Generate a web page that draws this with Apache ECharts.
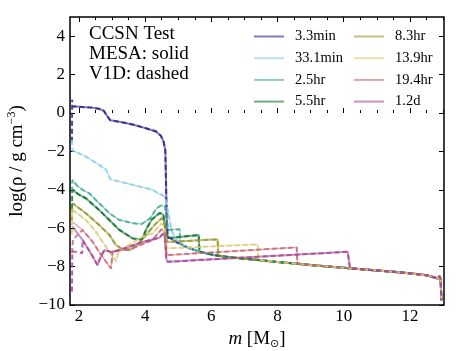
<!DOCTYPE html>
<html lang="en">
<head>
<meta charset="UTF-8">
<title>CCSN Test</title>
<script src="https://cdn.jsdelivr.net/npm/echarts@6/dist/echarts.min.js"></script>
<style>
  html, body { margin: 0; padding: 0; background: #fff; }
  #chart { width: 468px; height: 351px; }
</style>
</head>
<body>
<div id="chart"></div>
<script>
// labels of the eight snapshots (legend)
var times = ['3.3min', '33.1min', '2.5hr', '5.5hr', '8.3hr', '13.9hr', '19.4hr', '1.2d'];
var colors = ['#332288', '#88CCEE', '#44AA99', '#117733', '#999933', '#DDCC77', '#CC6677', '#AA4499'];

// inner part of each profile [m, log rho]
var prof33min = [[1.8,0.35],[2.0,0.33],[2.2,0.3],[2.4,0.28],[2.6,0.22],[2.75,0.12],[2.85,-0.15],[2.95,-0.38],[3.3,-0.48],[3.62,-0.6],[4.0,-0.78],[4.33,-0.96],[4.48,-1.2],[4.56,-1.5],[4.61,-1.95],[4.63,-3.5],[4.65,-5.5],[4.68,-6.45]];
var prof331min = [[1.8,-1.95],[2.0,-2.1],[2.21,-2.27],[2.42,-2.5],[2.61,-2.7],[2.82,-2.96],[2.95,-3.45],[3.3,-3.6],[3.62,-3.74],[4.0,-3.9],[4.23,-4.0],[4.4,-4.2],[4.55,-4.3],[4.62,-4.5],[4.7,-5.2],[4.8,-6.1],[4.9,-6.5],[5.05,-6.8],[5.3,-7.02]];
var prof25hr = [[1.8,-3.48],[1.95,-3.8],[2.11,-4.0],[2.31,-4.18],[2.61,-4.7],[2.92,-5.22],[3.22,-5.57],[3.62,-5.74],[3.9,-5.78],[4.15,-5.48],[4.35,-4.96],[4.5,-4.79],[4.6,-4.88],[4.66,-5.6],[4.7,-6.09],[5.04,-6.05],[5.06,-6.78]];
var prof55hr = [[1.8,-4.0],[2.0,-4.25],[2.21,-4.44],[2.61,-5.05],[2.92,-5.57],[3.22,-6.09],[3.62,-6.53],[3.9,-6.6],[4.05,-6.0],[4.2,-5.55],[4.45,-5.2],[4.55,-5.3],[4.63,-6.3],[4.68,-6.52],[5.62,-6.36],[5.64,-7.22]];
var prof83hr = [[1.8,-4.7],[2.0,-4.95],[2.21,-5.22],[2.61,-5.83],[2.92,-6.35],[3.12,-6.88],[3.32,-7.1],[3.55,-7.15],[3.8,-6.8],[4.1,-6.2],[4.3,-5.8],[4.5,-5.48],[4.58,-5.6],[4.64,-6.55],[4.68,-6.72],[6.19,-6.58],[6.21,-7.42]];
var prof139hr = [[1.8,-5.05],[2.0,-5.3],[2.21,-5.57],[2.51,-6.18],[2.71,-6.7],[2.95,-7.3],[3.12,-7.72],[3.2,-7.2],[3.62,-6.75],[3.92,-6.45],[4.22,-6.27],[4.5,-5.75],[4.58,-5.9],[4.64,-6.9],[4.68,-7.05],[7.4,-6.84],[7.42,-7.66]];
var prof194hr = [[1.8,-5.66],[2.11,-6.09],[2.41,-6.7],[2.61,-7.23],[2.82,-7.75],[2.97,-8.09],[3.02,-7.2],[3.3,-7.15],[3.62,-7.05],[4.22,-6.61],[4.5,-6.05],[4.58,-6.2],[4.64,-7.2],[4.68,-7.4],[8.58,-7.0],[8.6,-7.84]];
var prof12d = [[1.8,-5.92],[2.11,-6.61],[2.36,-7.31],[2.56,-7.92],[2.66,-7.49],[2.77,-7.14],[3.0,-7.25],[3.32,-7.08],[3.92,-6.72],[4.43,-6.5],[4.53,-6.3],[4.6,-6.45],[4.64,-7.6],[4.68,-7.75],[10.12,-7.23],[10.15,-7.15],[10.19,-8.09]];

// undisturbed outer envelope, shared by every profile beyond its shock
var outerTail = [[4.75,-6.5],[4.85,-6.62],[5.0,-6.78],[5.3,-7.02],[5.64,-7.22],[6.0,-7.37],[6.21,-7.43],[6.5,-7.5],[7.0,-7.59],[7.42,-7.66],[8.0,-7.76],[8.6,-7.85],[9.0,-7.92],[9.5,-7.99],[10.19,-8.09],[11.0,-8.2],[11.5,-8.27],[12.0,-8.35],[12.5,-8.45],[12.85,-8.62],[12.89,-8.5],[12.93,-8.65],[12.95,-9.75]];

// V1D inner boundary points (dashed curves only)
var v1dEdge = [
  [[1.79,-1.5],[1.795,0.7]],
  [[1.79,-1.4]],
  [[1.79,-4.1]],
  [[1.79,-5.0]],
  [[1.79,-5.6]],
  [[1.79,-6.3]],
  [[1.79,-7.3],[1.82,-6.6]],
  [[1.79,-9.3],[1.8,-7.2],[2.1,-7.3]]
];

var inner = [prof33min, prof331min, prof25hr, prof55hr, prof83hr, prof139hr, prof194hr, prof12d];
var solidWidth = [2, 1.2, 1.2, 2, 2, 1.2, 1.2, 2];

var xMajor = [2, 4, 6, 8, 10, 12];
var xMinor = [2.5, 3, 3.5, 4.5, 5, 5.5, 6.5, 7, 7.5, 8.5, 9, 9.5, 10.5, 11, 11.5, 12.5, 13];
var yMajor = [-10, -8, -6, -4, -2, 0, 2, 4];

function full(p) {
  var last = p[p.length - 1][0];
  return p.concat(outerTail.filter(function (q) { return q[0] > last; }));
}

var series = [];
inner.forEach(function (p, i) {
  series.push({
    name: times[i], type: 'line', data: full(p), symbol: 'none',
    lineStyle: { color: colors[i], width: solidWidth[i], opacity: 0.6 },
    itemStyle: { color: colors[i] },
    z: 2
  });
});
inner.forEach(function (p, i) {
  var edge = v1dEdge[i];
  var lastX = edge[edge.length - 1][0];
  var d = edge.concat(full(p).filter(function (q) { return q[0] > lastX; }));
  series.push({
    name: times[i] + ' V1D', type: 'line', data: d, symbol: 'none',
    lineStyle: { color: colors[i], width: 2, type: [5, 3], opacity: 0.85 },
    z: 3
  });
});

var serif = 'Liberation Serif, DejaVu Serif, serif';
var xMin = 1.73, xMax = 13.03, yMin = -10, yMax = 5;

function minus(v) { return v < 0 ? '\u2212' + Math.abs(v) : '' + v; }

function xAx(pos, vals, len, labels) {
  return {
    type: 'value', position: pos, min: xMin, max: xMax,
    axisLine: { show: false }, splitLine: { show: false },
    axisTick: { show: true, inside: true, length: len, customValues: vals, lineStyle: { color: '#000', width: 1 } },
    axisLabel: labels ? { show: true, customValues: xMajor, color: '#000', fontFamily: serif, fontSize: 17, margin: 3 } : { show: false }
  };
}
function yAx(pos, labels) {
  return {
    type: 'value', position: pos, min: yMin, max: yMax,
    axisLine: { show: false }, splitLine: { show: false },
    axisTick: { show: true, inside: true, length: 5, customValues: yMajor, lineStyle: { color: '#000', width: 1 } },
    axisLabel: labels ? { show: true, customValues: yMajor, formatter: minus, color: '#000', fontFamily: serif, fontSize: 17, margin: 5 } : { show: false }
  };
}

var xa0 = xAx('bottom', xMajor, 5, true);
xa0.name = '{i|m} {a|[M}{s|\u2299}{a|]}';
xa0.nameLocation = 'middle';
xa0.nameGap = 16;
xa0.nameTextStyle = {
  color: '#000', fontFamily: serif, fontSize: 19,
  rich: {
    i: { fontFamily: serif, fontSize: 19, fontStyle: 'italic', color: '#000' },
    a: { fontFamily: serif, fontSize: 19, color: '#000' },
    s: { fontFamily: 'DejaVu Sans', fontSize: 11, color: '#000', padding: [9, 0, 0, 0] }
  }
};
var ya0 = yAx('left', true);
ya0.name = '{a|log(\u03c1 / g cm}{s|\u22123}{a|)}';
ya0.nameLocation = 'middle';
ya0.nameGap = 42;
ya0.nameTextStyle = {
  color: '#000', fontFamily: serif, fontSize: 19,
  rich: {
    a: { fontFamily: serif, fontSize: 19, color: '#000' },
    s: { fontFamily: serif, fontSize: 12, color: '#000', padding: [0, 0, 10, 0] }
  }
};

var legendBase = {
  orient: 'vertical', itemWidth: 30, itemHeight: 14, itemGap: 6.7, top: 29, padding: 0,
  itemStyle: { opacity: 0 },
  textStyle: { fontFamily: serif, fontSize: 14.5, color: '#000', padding: [0, 0, 0, 6] },
  selectedMode: false
};

var option = {
  animation: false,
  grid: { left: 70, right: 24, top: 17, bottom: 46, outerBoundsMode: 'none', show: true, borderColor: '#000', borderWidth: 1.5, backgroundColor: 'transparent' },
  xAxis: [xa0, xAx('bottom', xMinor, 3, false), xAx('top', xMajor, 5, false), xAx('top', xMinor, 3, false)],
  yAxis: [ya0, yAx('right', false)],
  legend: [
    Object.assign({}, legendBase, { left: 253, data: times.slice(0, 4) }),
    Object.assign({}, legendBase, { left: 353, data: times.slice(4) })
  ],
  graphic: [{
    type: 'text', left: 89, top: 24,
    style: { text: 'CCSN Test\nMESA: solid\nV1D: dashed', font: '19px Liberation Serif', lineHeight: 20, fill: '#000' }
  }],
  series: series
};

var chart = echarts.init(document.getElementById('chart'));
chart.setOption(option);
</script>
</body>
</html>
